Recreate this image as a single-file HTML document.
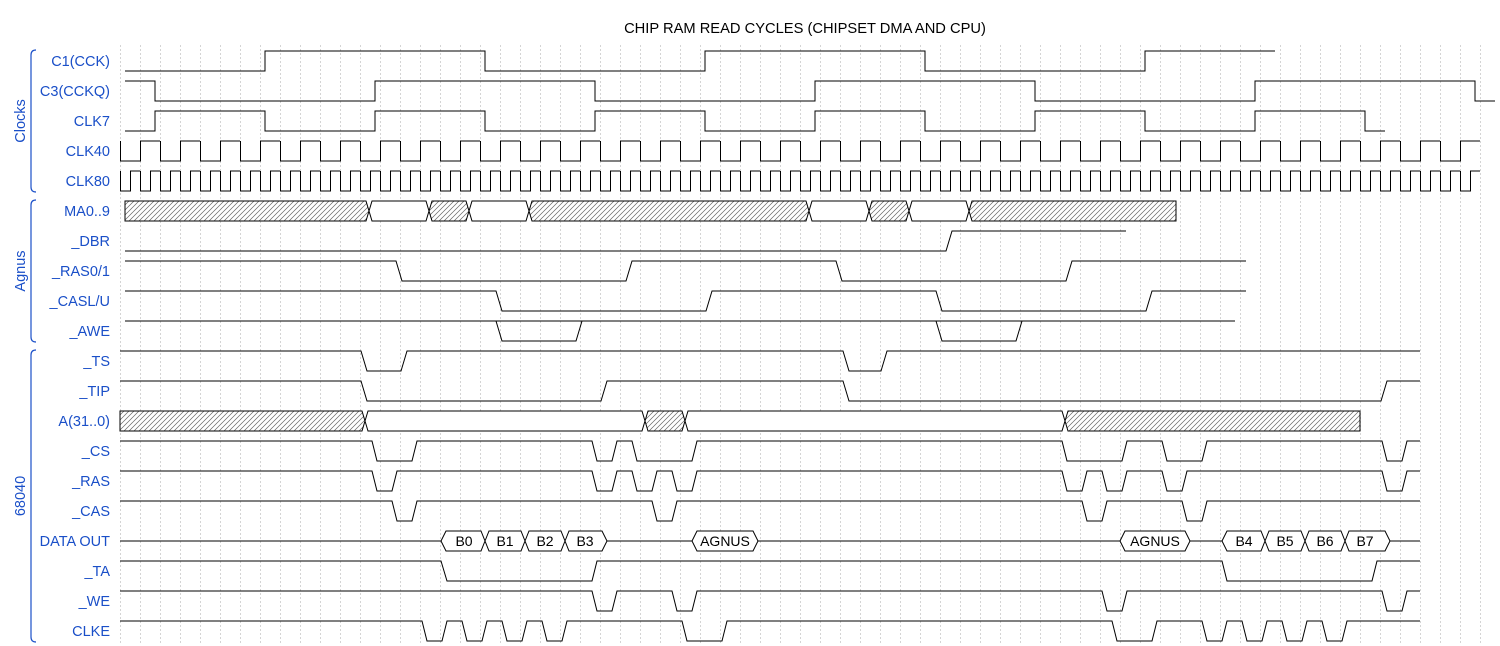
<!DOCTYPE html>
<html><head><meta charset="utf-8"><style>
html,body{margin:0;padding:0;background:#fff;}
svg{display:block;font-family:"Liberation Sans",Arial,sans-serif;}
.l{font-size:14.5px;fill:#1a4fc8;text-anchor:end;}
.g{font-size:14.5px;fill:#1a4fc8;text-anchor:middle;}
.w{fill:none;stroke:#000;stroke-width:1;}
.bx{fill:#fff;stroke:#000;stroke-width:1;}
.h{fill:url(#hatch);stroke:#000;stroke-width:1;}
.t{font-size:14px;fill:#000;text-anchor:middle;}
.tt{font-size:14.7px;fill:#000;text-anchor:middle;}
.br{fill:none;stroke:#1a4fc8;stroke-width:1.2;}
</style></head><body>
<svg width="1500" height="646" viewBox="0 0 1500 646" xmlns="http://www.w3.org/2000/svg">
<defs>
<pattern id="grid" patternUnits="userSpaceOnUse" x="120" y="45" width="20" height="4"><line x1="0.5" y1="0" x2="0.5" y2="2" stroke="#d4d4d4" stroke-width="1"/></pattern>
<pattern id="hatch" patternUnits="userSpaceOnUse" width="5" height="5"><rect width="5" height="5" fill="#fff"/><path d="M-1,6 L6,-1 M-1,1 L1,-1 M4,6 L6,4" stroke="#666" stroke-width="0.7"/></pattern>
<pattern id="c40" patternUnits="userSpaceOnUse" x="120" y="140" width="40" height="22"><path d="M0.5,1 V21 H20.5 V1 H40.5 V21" fill="none" stroke="#000"/><path d="M0.5,1 V21" stroke="#000"/></pattern>
<pattern id="c80" patternUnits="userSpaceOnUse" x="120" y="170" width="20" height="22"><path d="M0.5,1 V21 H10.5 V1 H20.5 V21" fill="none" stroke="#000"/></pattern>
</defs>
<rect x="120" y="45" width="1361" height="600" fill="url(#grid)"/>
<text x="805" y="33" class="tt">CHIP RAM READ CYCLES (CHIPSET DMA AND CPU)</text>

<path class="br" d="M36,50 Q31,50 31,55 V187 Q31,192 36,192"/>
<path class="br" d="M36,200 Q31,200 31,205 V337 Q31,342 36,342"/>
<path class="br" d="M36,350 Q31,350 31,355 V637 Q31,642 36,642"/>
<text class="g" transform="translate(25,121) rotate(-90)">Clocks</text>
<text class="g" transform="translate(25,271) rotate(-90)">Agnus</text>
<text class="g" transform="translate(25,496) rotate(-90)">68040</text>

<text class="l" x="110" y="66">C1(CCK)</text>
<text class="l" x="110" y="96">C3(CCKQ)</text>
<text class="l" x="110" y="126">CLK7</text>
<text class="l" x="110" y="156">CLK40</text>
<text class="l" x="110" y="186">CLK80</text>
<text class="l" x="110" y="216">MA0..9</text>
<text class="l" x="110" y="246">_DBR</text>
<text class="l" x="110" y="276">_RAS0/1</text>
<text class="l" x="110" y="306">_CASL/U</text>
<text class="l" x="110" y="336">_AWE</text>
<text class="l" x="110" y="366">_TS</text>
<text class="l" x="110" y="396">_TIP</text>
<text class="l" x="110" y="426">A(31..0)</text>
<text class="l" x="110" y="456">_CS</text>
<text class="l" x="110" y="486">_RAS</text>
<text class="l" x="110" y="516">_CAS</text>
<text class="l" x="110" y="546">DATA OUT</text>
<text class="l" x="110" y="576">_TA</text>
<text class="l" x="110" y="606">_WE</text>
<text class="l" x="110" y="636">CLKE</text>

<path class="w" d="M125,71 H265 V51 H485 V71 H705 V51 H925 V71 H1145 V51 H1275"/>
<path class="w" d="M125,81 H155 V101 H375 V81 H595 V101 H815 V81 H1035 V101 H1255 V81 H1475 V101 H1495"/>
<path class="w" d="M125,131 H155 V111 H265 V131 H375 V111 H485 V131 H595 V111 H705 V131 H815 V111 H925 V131 H1035 V111 H1145 V131 H1255 V111 H1365 V131 H1385"/>
<rect x="120" y="140" width="1360" height="22" fill="url(#c40)"/>
<rect x="120" y="170" width="1360" height="22" fill="url(#c80)"/>

<polygon class="h" points="125,201 366,201 369,211 366,221 125,221"/>
<polygon class="bx" points="369,211 372,201 426,201 429,211 426,221 372,221"/>
<polygon class="h" points="429,211 432,201 466,201 469,211 466,221 432,221"/>
<polygon class="bx" points="469,211 472,201 526,201 529,211 526,221 472,221"/>
<polygon class="h" points="529,211 532,201 806,201 809,211 806,221 532,221"/>
<polygon class="bx" points="809,211 812,201 866,201 869,211 866,221 812,221"/>
<polygon class="h" points="869,211 872,201 906,201 909,211 906,221 872,221"/>
<polygon class="bx" points="909,211 912,201 966,201 969,211 966,221 912,221"/>
<polygon class="h" points="969,211 972,201 1176,201 1176,221 972,221"/>

<path class="w" d="M125,251 H946 L952,231 H1126"/>
<path class="w" d="M125,261 H396 L402,281 H626 L632,261 H836 L842,281 H1066 L1072,261 H1246"/>
<path class="w" d="M125,291 H496 L502,311 H706 L712,291 H936 L942,311 H1146 L1152,291 H1246"/>
<path class="w" d="M125,321 H1235 M496,321 L502,341 H576 L582,321 M936,321 L942,341 H1016 L1022,321"/>

<path class="w" d="M120,351 H361 L367,371 H401 L407,351 H843 L849,371 H881 L887,351 H1420"/>
<path class="w" d="M120,381 H361 L367,401 H601 L607,381 H843 L849,401 H1381 L1387,381 H1420"/>
<polygon class="h" points="120,411 362,411 365,421 362,431 120,431"/>
<polygon class="bx" points="365,421 368,411 642,411 645,421 642,431 368,431"/>
<polygon class="h" points="645,421 648,411 682,411 685,421 682,431 648,431"/>
<polygon class="bx" points="685,421 688,411 1062,411 1065,421 1062,431 688,431"/>
<polygon class="h" points="1065,421 1068,411 1360,411 1360,431 1068,431"/>
<path class="w" d="M120,441 H372 L377,461 H412 L417,441 H592 L597,461 H612 L617,441 H632 L637,461 H692 L697,441 H1062 L1067,461 H1122 L1127,441 H1162 L1167,461 H1202 L1207,441 H1382 L1387,461 H1402 L1407,441 H1420"/>
<path class="w" d="M120,471 H372 L377,491 H392 L397,471 H592 L597,491 H612 L617,471 H632 L637,491 H652 L657,471 H672 L677,491 H692 L697,471 H1062 L1067,491 H1082 L1087,471 H1102 L1107,491 H1122 L1127,471 H1162 L1167,491 H1182 L1187,471 H1382 L1387,491 H1402 L1407,471 H1420"/>
<path class="w" d="M120,501 H392 L397,521 H412 L417,501 H652 L657,521 H672 L677,501 H1082 L1087,521 H1102 L1107,501 H1182 L1187,521 H1202 L1207,501 H1420"/>

<path class="w" d="M120,541 H441 M607,541 H692 M758,541 H1120 M1190,541 H1222 M1390,541 H1420"/>
<polygon class="bx" points="441,541 446,531 481,531 485,541 481,551 446,551"/>
<polygon class="bx" points="485,541 489,531 521,531 525,541 521,551 489,551"/>
<polygon class="bx" points="525,541 529,531 561,531 565,541 561,551 529,551"/>
<polygon class="bx" points="565,541 569,531 602,531 607,541 602,551 569,551"/>
<polygon class="bx" points="692,541 697,531 753,531 758,541 753,551 697,551"/>
<polygon class="bx" points="1120,541 1125,531 1185,531 1190,541 1185,551 1125,551"/>
<polygon class="bx" points="1222,541 1227,531 1261,531 1265,541 1261,551 1227,551"/>
<polygon class="bx" points="1265,541 1269,531 1301,531 1305,541 1301,551 1269,551"/>
<polygon class="bx" points="1305,541 1309,531 1341,531 1345,541 1341,551 1309,551"/>
<polygon class="bx" points="1345,541 1349,531 1385,531 1390,541 1385,551 1349,551"/>
<text class="t" x="464" y="546">B0</text>
<text class="t" x="505" y="546">B1</text>
<text class="t" x="545" y="546">B2</text>
<text class="t" x="585" y="546">B3</text>
<text class="t" x="725" y="546">AGNUS</text>
<text class="t" x="1155" y="546">AGNUS</text>
<text class="t" x="1244" y="546">B4</text>
<text class="t" x="1285" y="546">B5</text>
<text class="t" x="1325" y="546">B6</text>
<text class="t" x="1365" y="546">B7</text>

<path class="w" d="M120,561 H441 L447,581 H592 L597,561 H1222 L1227,581 H1372 L1377,561 H1420"/>
<path class="w" d="M120,591 H592 L597,611 H612 L617,591 H672 L677,611 H692 L697,591 H1102 L1107,611 H1122 L1127,591 H1382 L1387,611 H1402 L1407,591 H1420"/>
<path class="w" d="M120,621 H422 L427,641 H442 L447,621 H462 L467,641 H482 L487,621 H502 L507,641 H522 L527,621 H542 L547,641 H562 L567,621 H682 L687,641 H722 L727,621 H1112 L1117,641 H1152 L1157,621 H1202 L1207,641 H1222 L1227,621 H1242 L1247,641 H1262 L1267,621 H1282 L1287,641 H1302 L1307,621 H1322 L1327,641 H1342 L1347,621 H1420"/>
</svg>
</body></html>
